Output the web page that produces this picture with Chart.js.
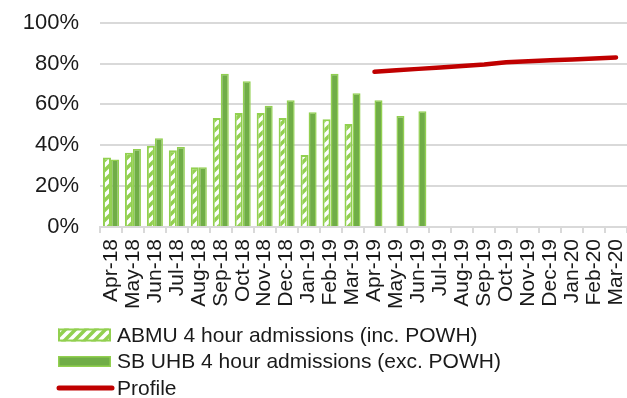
<!DOCTYPE html>
<html>
<head>
<meta charset="utf-8">
<script src="https://cdn.jsdelivr.net/npm/chart.js@4.4.1/dist/chart.umd.min.js"></script>
<style>
  html, body { margin: 0; padding: 0; background: #ffffff; }
  #wrap { width: 627px; height: 398px; position: relative; }
</style>
</head>
<body>
<div id="wrap"><canvas id="c" width="627" height="398"></canvas></div>
<script>
const categories = ["Apr-18","May-18","Jun-18","Jul-18","Aug-18","Sep-18","Oct-18","Nov-18","Dec-18","Jan-19","Feb-19","Mar-19",
                    "Apr-19","May-19","Jun-19","Jul-19","Aug-19","Sep-19","Oct-19","Nov-19","Dec-19","Jan-20","Feb-20","Mar-20"];
const abmuValues = [34, 36.4, 39.8, 37.6, 29.3, 53.3, 55.8, 55.8, 53.3, 35.3, 52.7, 50.4,
                    null, null, null, null, null, null, null, null, null, null, null, null];
const sbuhbValues = [33, 38.2, 43.4, 39.2, 29.3, 75, 71.4, 59.4, 62, 56.2, 75, 65.5,
                     62, 54.3, 56.7, null, null, null, null, null, null, null, null, null];
const profileValues = [null, null, null, null, null, null, null, null, null, null, null, null,
                       76.0, 76.7, 77.4, 78.1, 78.8, 79.5, 80.6, 81.1, 81.6, 82.0, 82.5, 83.0];
const yTicks = [0, 20, 40, 60, 80, 100];
const seriesNames = ["ABMU 4 hour admissions (inc. POWH)", "SB UHB 4 hour admissions (exc. POWH)", "Profile"];

const LIGHT = '#92D050';
const DARK = '#70AD47';
const RED = '#C00000';
const FONT = '"Liberation Sans", Arial, sans-serif';

function makePattern() {
  const c = document.createElement('canvas');
  c.width = 10; c.height = 10;
  const g = c.getContext('2d');
  g.fillStyle = LIGHT;
  g.fillRect(0, 0, 10, 10);
  g.strokeStyle = '#ffffff';
  g.lineWidth = 3.6;
  g.beginPath();
  g.moveTo(-5, 5); g.lineTo(5, -5);
  g.moveTo(0, 10); g.lineTo(10, 0);
  g.moveTo(5, 15); g.lineTo(15, 5);
  g.stroke();
  return g.createPattern(c, 'repeat');
}
const ctx = document.getElementById('c').getContext('2d');
const pattern = makePattern();

const legendPlugin = {
  id: 'customLegend',
  afterDraw(chart) {
    const g = chart.ctx;
    g.save();
    g.font = '21px ' + FONT;
    g.textBaseline = 'middle';
    g.textAlign = 'left';
    const x0 = 58, w = 53, tx = 117;
    const rows = [335, 361.5, 388];
    g.fillStyle = pattern;
    g.fillRect(x0, rows[0] - 6.5, w, 13);
    g.strokeStyle = LIGHT; g.lineWidth = 2;
    g.strokeRect(x0 + 1, rows[0] - 5.5, w - 2, 11);
    g.fillStyle = DARK;
    g.fillRect(x0, rows[1] - 5.5, w, 11);
    g.strokeStyle = LIGHT; g.lineWidth = 1.5;
    g.strokeRect(x0 + 0.75, rows[1] - 4.75, w - 1.5, 9.5);
    g.strokeStyle = RED; g.lineWidth = 5; g.lineCap = 'round';
    g.beginPath(); g.moveTo(x0 + 1, rows[2]); g.lineTo(x0 + w + 1, rows[2]); g.stroke();
    g.fillStyle = '#1a1a1a';
    for (let i = 0; i < 3; i++) g.fillText(seriesNames[i], tx, rows[i] + 1);
    g.restore();
  }
};

new Chart(ctx, {
  type: 'bar',
  data: {
    labels: categories,
    datasets: [
      { label: seriesNames[0], data: abmuValues, backgroundColor: pattern, borderColor: LIGHT, borderWidth: 2,
        categoryPercentage: 0.73, barPercentage: 1.0, order: 2 },
      { label: seriesNames[1], data: sbuhbValues, backgroundColor: DARK, borderColor: LIGHT, borderWidth: 1.5,
        categoryPercentage: 0.73, barPercentage: 1.0, order: 2 },
      { type: 'line', label: seriesNames[2], data: profileValues, borderColor: RED, backgroundColor: RED,
        borderWidth: 4.5, pointRadius: 0, borderCapStyle: 'round', borderJoinStyle: 'round', tension: 0, order: 1 }
    ]
  },
  options: {
    responsive: false,
    animation: false,
    devicePixelRatio: 1,
    layout: { padding: { top: 0, right: 0, bottom: 81, left: 0 } },
    plugins: { legend: { display: false }, tooltip: { enabled: false } },
    scales: {
      x: {
        grid: { drawOnChartArea: false, drawTicks: true, tickLength: 6, color: '#D9D9D9', lineWidth: 2, offset: true },
        border: { display: true, color: '#D9D9D9', width: 2 },
        ticks: { autoSkip: false, maxRotation: 90, minRotation: 90, padding: 6, color: '#1a1a1a',
                 font: { family: FONT, size: 21 } },
        afterFit(scale) { scale.height = 90; scale.paddingRight = 0; scale.paddingLeft = 0; }
      },
      y: {
        min: 0, max: 100,
        afterBuildTicks(scale) { scale.ticks = yTicks.map(v => ({ value: v })); },
        grid: { color: '#D9D9D9', lineWidth: 2, drawTicks: false },
        border: { display: false },
        ticks: { padding: 21, color: '#1a1a1a', font: { family: FONT, size: 22 },
                 callback: (v) => v + '%' },
        afterFit(scale) { scale.width = 100; scale.paddingTop = 22.7; scale.paddingBottom = 0; }
      }
    }
  },
  plugins: [legendPlugin]
});
</script>
</body>
</html>
